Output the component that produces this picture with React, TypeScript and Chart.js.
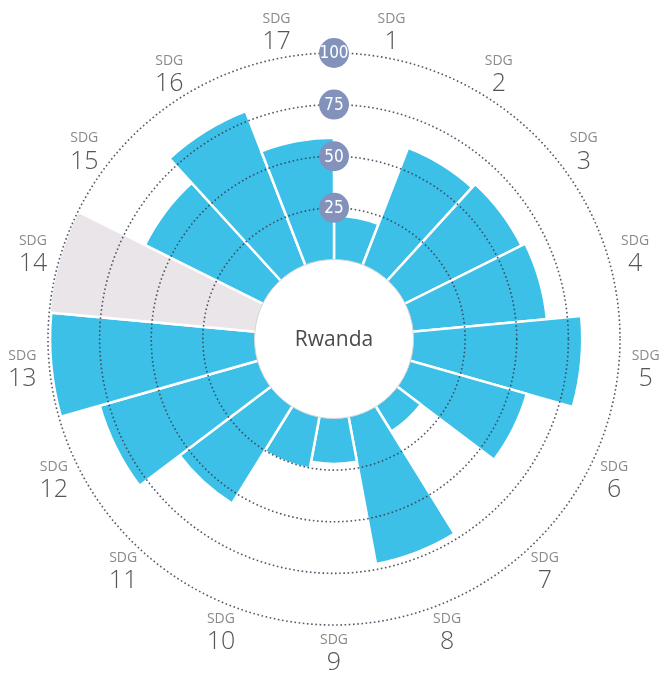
import { useEffect, useRef } from 'react';
import { Chart, registerables } from 'chart.js';

Chart.register(...registerables);

// ---- data ----
const categories = ['SDG 1', 'SDG 2', 'SDG 3', 'SDG 4', 'SDG 5', 'SDG 6', 'SDG 7', 'SDG 8', 'SDG 9',
  'SDG 10', 'SDG 11', 'SDG 12', 'SDG 13', 'SDG 14', 'SDG 15', 'SDG 16', 'SDG 17'];
const goalNumbers = ['1', '2', '3', '4', '5', '6', '7', '8', '9', '10', '11', '12', '13', '14', '15', '16', '17'];
// null = no data (drawn as a full grey wedge)
const scores: (number | null)[] = [21.2, 60.8, 63, 65, 81.7, 58.6, 14.2, 72.3, 22, 25.3, 55.2, 79.5, 99, null, 63.8, 79.8, 59];
const ringValues = [25, 50, 75, 100];
const ringLabels = ['25', '50', '75', '100'];
const countryName = 'Rwanda';
const goalPrefix = 'SDG';

const SCALE_MAX = 100;
const SCALE_MIN = -38.5; // leaves room for the centre hole (value 0 sits at its rim)

const BAR_COLOR = '#3cc0e8';
const NODATA_COLOR = '#e9e5e9';

const decorPlugin = {
  id: 'decor',
  afterDatasetsDraw(chart: any) {
    const s = chart.scales.r;
    const ctx: CanvasRenderingContext2D = chart.ctx;
    const cx = s.xCenter;
    const cy = s.yCenter;
    ctx.save();

    // centre disc
    const r0 = s.getDistanceFromCenterForValue(0);
    ctx.beginPath();
    ctx.arc(cx, cy, r0, 0, Math.PI * 2);
    ctx.fillStyle = '#ffffff';
    ctx.fill();
    ctx.lineWidth = 1;
    ctx.strokeStyle = '#d6d6d6';
    ctx.stroke();
    ctx.fillStyle = '#4a4a4a';
    ctx.font = '21px "Open Sans", "Noto Sans", sans-serif';
    ctx.textAlign = 'center';
    ctx.textBaseline = 'middle';
    ctx.fillText(countryName, cx, cy + 1);

    // dotted rings
    ctx.setLineDash([1.6, 2.6]);
    ctx.lineWidth = 1.6;
    ctx.strokeStyle = 'rgba(55,60,80,0.85)';
    ringValues.forEach((v) => {
      const r = s.getDistanceFromCenterForValue(v);
      ctx.beginPath();
      ctx.arc(cx, cy, r, 0, Math.PI * 2);
      ctx.stroke();
    });
    ctx.setLineDash([]);

    // ring badges
    ringValues.forEach((v, i) => {
      const r = s.getDistanceFromCenterForValue(v);
      ctx.beginPath();
      ctx.arc(cx, cy - r, 15, 0, Math.PI * 2);
      ctx.fillStyle = '#8292bb';
      ctx.fill();
      ctx.fillStyle = '#ffffff';
      ctx.font = '17px "Liberation Sans Narrow", "DejaVu Sans Condensed", sans-serif';
      ctx.textAlign = 'center';
      ctx.textBaseline = 'middle';
      ctx.fillText(ringLabels[i], cx, cy - r + 1);
    });

    // goal labels
    const n = categories.length;
    const labelR = s.drawingArea + 27;
    for (let i = 0; i < n; i++) {
      const a = -Math.PI / 2 + ((i + 0.5) * Math.PI * 2) / n;
      const x = cx + Math.cos(a) * labelR;
      const y = cy + Math.sin(a) * labelR;
      ctx.textAlign = 'center';
      ctx.textBaseline = 'middle';
      ctx.fillStyle = '#8a8a8a';
      ctx.font = '14px "Open Sans", "Noto Sans", sans-serif';
      ctx.fillText(goalPrefix, x, y - 12);
      ctx.fillStyle = '#555555';
      ctx.font = '300 25px "Open Sans", "Noto Sans", sans-serif';
      ctx.fillText(goalNumbers[i], x, y + 11);
    }
    ctx.restore();
  },
};

export default function App() {
  const canvasRef = useRef<HTMLCanvasElement | null>(null);

  useEffect(() => {
    if (!canvasRef.current) return;
    const data = scores.map((v) => (v === null ? SCALE_MAX : v));
    const colors = scores.map((v) => (v === null ? NODATA_COLOR : BAR_COLOR));
    const chart = new Chart(canvasRef.current, {
      type: 'polarArea',
      data: {
        labels: categories,
        datasets: [
          {
            data,
            backgroundColor: colors,
            borderColor: '#ffffff',
            borderWidth: 2.5,
          },
        ],
      },
      options: {
        responsive: false,
        animation: false,
        layout: { padding: { left: 48, right: 40, top: 53, bottom: 50 } },
        plugins: {
          legend: { display: false },
          tooltip: { enabled: false },
        },
        scales: {
          r: {
            min: SCALE_MIN,
            max: SCALE_MAX,
            startAngle: 0,
            grid: { display: false },
            angleLines: { display: false },
            ticks: { display: false },
            pointLabels: { display: false },
          },
        },
      },
      plugins: [decorPlugin],
    });
    return () => chart.destroy();
  }, []);

  return (
    <div style={{ position: 'absolute', left: 0, top: 0, width: 660, height: 675, background: '#fff' }}>
      <canvas ref={canvasRef} width={660} height={675} />
    </div>
  );
}
